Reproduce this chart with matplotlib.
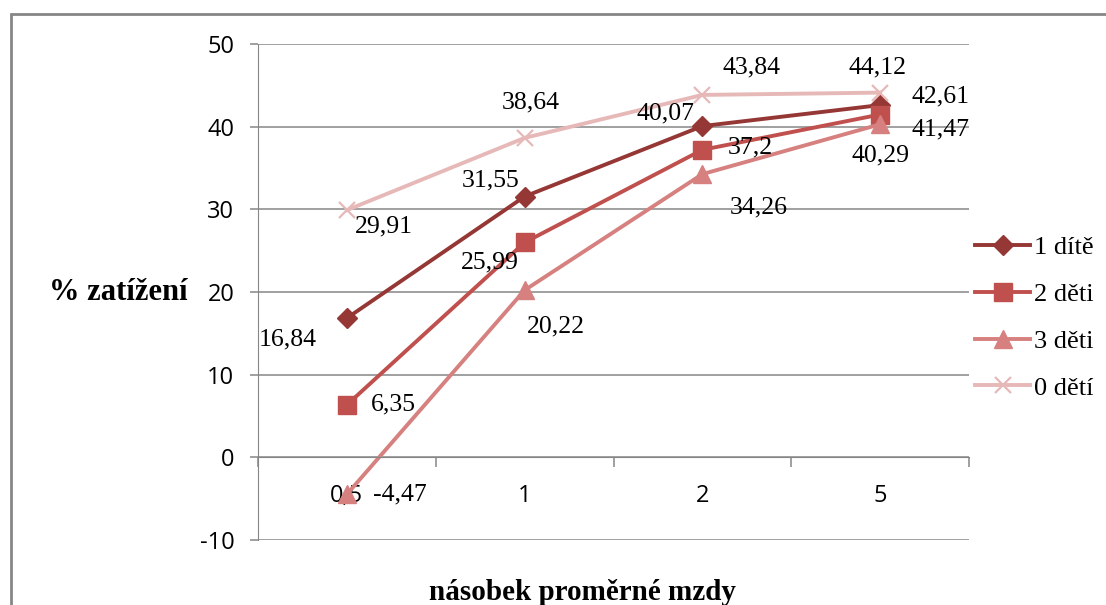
import matplotlib
matplotlib.use("Agg")
import matplotlib.pyplot as plt
from matplotlib.patches import Rectangle

# násobek průměrné mzdy (kategorie) a daňové zatížení v %
kategorie = ["0,5", "1", "2", "5"]
serie = ["1 dítě", "2 děti", "3 děti", "0 dětí"]
jedno_dite = [16.84, 31.55, 40.07, 42.61]
dve_deti = [6.35, 25.99, 37.2, 41.47]
tri_deti = [-4.47, 20.22, 34.26, 40.29]
bez_deti = [29.91, 38.64, 43.84, 44.12]

barvy = ["#953735", "#C0504D", "#D6817F", "#E6B9B8"]
znacky = [("D", 10.5, 1.0), ("s", 12.5, 1.0), ("^", 13.5, 1.0), ("x", 12, 1.6)]

# posun popisků hodnot od bodu (v pixelech), po řadách
posuny = [
    [(-59, -21), (-34, 16), (-37, 13), (60, 9)],
    [(47, 0), (-35, -20), (48, 2), (60, -15)],
    [(53, 0), (31, -36), (56, -33), (0, -31)],
    [(37, -16), (6, 35), (49, 27), (-3, 25)],
]

plt.rcParams["axes.unicode_minus"] = False

SERIF = ["Liberation Serif", "DejaVu Serif"]
SANS = ["Open Sans", "DejaVu Sans"]
SEDA = "#868686"

W, H = 1106, 605
fig = plt.figure(figsize=(W / 100, H / 100), dpi=100)

# rámeček grafu (vpravo a dole uříznutý)
fig.patches.append(Rectangle((11 / W, -0.1), 1.2, 1 - 14 / H + 0.1,
                             transform=fig.transFigure, fill=False,
                             edgecolor=SEDA, linewidth=2))

ax = fig.add_axes([258 / W, 65 / H, 711 / W, 496 / H])
x = list(range(len(kategorie)))

for hodnoty, nazev, barva, (m, ms, mew), pos in zip(
        [jedno_dite, dve_deti, tri_deti, bez_deti], serie, barvy, znacky, posuny):
    ax.plot(x, hodnoty, color=barva, linewidth=2.8, marker=m, markersize=ms,
            markerfacecolor=barva, markeredgecolor=barva, markeredgewidth=mew,
            label=nazev, clip_on=False)
    for xi, v, (dx, dy) in zip(x, hodnoty, pos):
        ax.annotate(f"{v:g}".replace(".", ","), (xi, v), xytext=(dx, dy),
                    textcoords="offset pixels", ha="center", va="center",
                    fontsize=18.5, family=SERIF, color="black")

ax.set_xlim(-0.5, len(kategorie) - 0.5)
ax.set_ylim(-10, 50)
ax.set_yticks(range(-10, 51, 10))
ax.yaxis.grid(True, color=SEDA, linewidth=1.1)
ax.set_axisbelow(True)

for s in ("top", "right"):
    ax.spines[s].set_visible(False)
ax.spines["left"].set_color(SEDA)
ax.spines["bottom"].set_color(SEDA)
ax.spines["bottom"].set_position(("data", 0))

# značky osy x mezi kategoriemi, popisky uprostřed
ax.set_xticks([i - 0.5 for i in range(len(kategorie) + 1)])
ax.set_xticklabels([])
ax.set_xticks(x, minor=True)
ax.set_xticklabels(kategorie, minor=True, family=SANS, fontsize=17)
ax.tick_params(axis="x", which="major", direction="out", length=7,
               color=SEDA, width=1.1)
ax.tick_params(axis="x", which="minor", length=0, pad=19)
ax.tick_params(axis="y", direction="out", length=6, color=SEDA, width=1.1,
               pad=11, labelsize=17)
for t in ax.get_yticklabels():
    t.set_family(SANS)

fig.text(118 / W, 1 - 292 / H, "% zatížení", ha="center", va="center",
         fontsize=22, fontweight="bold", family=SERIF)
fig.text(582 / W, 5 / H, "násobek proměrné mzdy", ha="center",
         va="baseline", fontsize=21, fontweight="bold", family=SERIF)

ax.legend(loc="upper left", bbox_to_anchor=(975 / W, 1 - 236 / H),
          bbox_transform=fig.transFigure, frameon=False, borderpad=0,
          borderaxespad=0, handlelength=2.1, handletextpad=0.15,
          labelspacing=0.88, prop={"family": SERIF, "size": 19})

fig.savefig("out.png", dpi=100)
